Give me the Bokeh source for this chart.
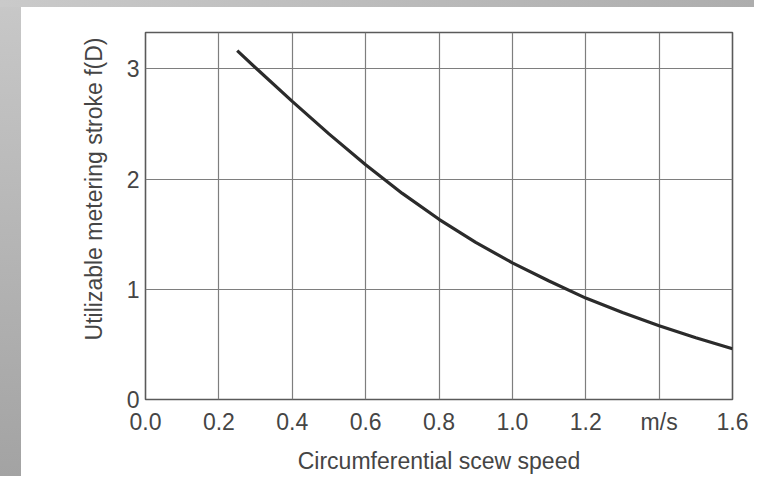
from bokeh.plotting import figure
from bokeh.models import Title, FixedTicker
from bokeh.embed import file_html
from bokeh.resources import INLINE

# data
speed = [0.25, 0.3, 0.4, 0.5, 0.6, 0.7, 0.8, 0.9, 1.0, 1.1, 1.2, 1.3, 1.4, 1.5, 1.6]
stroke = [3.165, 3.01, 2.705, 2.41, 2.13, 1.87, 1.635, 1.425, 1.24, 1.075, 0.92, 0.79, 0.67, 0.56, 0.46]

x_ticks = [0.0, 0.2, 0.4, 0.6, 0.8, 1.0, 1.2, 1.4, 1.6]
x_tick_labels = ["0.0", "0.2", "0.4", "0.6", "0.8", "1.0", "1.2", "m/s", "1.6"]
y_ticks = [0, 1, 2, 3]
y_tick_labels = ["0", "1", "2", "3"]

x_title = "Circumferential scew speed"
y_title = "Utilizable metering stroke f(D)"

FONT = "Liberation Sans"
TXT = "#454545"

bg = ("linear-gradient(to right, #cacaca, #adadad) top left / 100% 7px no-repeat, "
      "linear-gradient(to bottom, #c8c8c8, #a3a3a3) top left / 21px 100% no-repeat, #ffffff")

p = figure(width=754, height=476, x_range=(0, 1.6), y_range=(0, 3.33),
           output_backend="svg", toolbar_location=None,
           min_border_left=145, min_border_right=22,
           min_border_top=32, min_border_bottom=74,
           background_fill_color="white", border_fill_color=None,
           styles={"background": bg})

p.outline_line_color = "#5a5a5a"
p.outline_line_width = 1.6

for ax in (p.xaxis[0], p.yaxis[0]):
    ax.axis_line_color = None
    ax.major_tick_line_color = None
    ax.minor_tick_line_color = None
    ax.major_tick_out = 0
    ax.major_tick_in = 0
    ax.major_label_text_font = FONT
    ax.major_label_text_font_size = "23px"
    ax.major_label_text_color = TXT

p.xaxis.major_label_standoff = 9
p.yaxis.major_label_standoff = 6

p.xaxis.ticker = FixedTicker(ticks=x_ticks)
p.xaxis.major_label_overrides = {t: l for t, l in zip(x_ticks, x_tick_labels)}
p.yaxis.ticker = FixedTicker(ticks=y_ticks)
p.yaxis.major_label_overrides = {t: l for t, l in zip(y_ticks, y_tick_labels)}

p.xaxis.axis_label = x_title
p.xaxis.axis_label_text_font = FONT
p.xaxis.axis_label_text_font_size = "23px"
p.xaxis.axis_label_text_font_style = "normal"
p.xaxis.axis_label_text_color = TXT
p.xaxis.axis_label_standoff = 10

p.xgrid.grid_line_color = "#7e7e7e"
p.ygrid.grid_line_color = "#7e7e7e"
p.xgrid.grid_line_width = 1.2
p.ygrid.grid_line_width = 1.2

p.line(speed, stroke, line_color="#2b2b2b", line_width=3.2)

ytitle = Title(text=y_title, align="right", offset=5, standoff=34,
               text_font=FONT, text_font_size="23px", text_font_style="normal",
               text_color=TXT)
p.add_layout(ytitle, "left")

open("out.html", "w").write(file_html(p, INLINE))
